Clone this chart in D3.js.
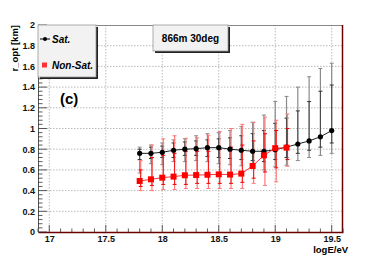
<!DOCTYPE html>
<html><head><meta charset="utf-8">
<script src="https://cdn.jsdelivr.net/npm/d3@7"></script>
<style>body{margin:0;background:#fff}svg{display:block}text{font-family:"Liberation Sans",Arial,sans-serif;font-weight:bold}</style>
</head><body>
<script>
const xTicks = [17, 17.5, 18, 18.5, 19, 19.5];
const yTicks = [0, 0.2, 0.4, 0.6, 0.8, 1, 1.2, 1.4, 1.6, 1.8, 2];
const yTickLabels = ["0","0.2","0.4","0.6","0.8","1","1.2","1.4","1.6","1.8","2"];

const satX   = [17.8,17.9,18.0,18.1,18.2,18.3,18.4,18.5,18.6,18.7,18.8,18.9,19.0,19.1,19.2,19.3,19.4,19.5];
const satY   = [0.76,0.76,0.77,0.79,0.80,0.805,0.815,0.815,0.80,0.79,0.78,0.78,0.795,0.82,0.85,0.88,0.92,0.98];
const satHi  = [0.82,0.84,0.86,0.89,0.90,0.93,0.95,0.96,0.98,1.02,1.06,1.13,1.26,1.31,1.40,1.50,1.58,1.63];
const satLo  = [0.57,0.66,0.65,0.68,0.68,0.69,0.68,0.66,0.65,0.64,0.62,0.60,0.63,0.645,0.69,0.72,0.74,0.76];
const satHiI = [0.80,0.82,0.83,0.86,0.87,0.88,0.89,0.90,0.91,0.93,0.95,0.98,1.05,1.10,1.17,1.26,1.36,1.42];
const satLoI = [0.70,0.71,0.72,0.72,0.74,0.74,0.73,0.72,0.71,0.70,0.69,0.68,0.70,0.72,0.76,0.79,0.82,0.86];

const nsX   = [17.8,17.9,18.0,18.1,18.2,18.3,18.4,18.5,18.6,18.7,18.8,18.9,19.0,19.1];
const nsY   = [0.493,0.509,0.525,0.535,0.548,0.55,0.553,0.557,0.555,0.564,0.638,0.741,0.81,0.815];
const nsHi  = [0.69,0.84,0.90,0.93,0.905,0.91,0.935,0.97,1.00,1.04,1.06,1.11,1.08,1.14];
const nsLo  = [0.40,0.40,0.41,0.41,0.42,0.42,0.42,0.42,0.42,0.42,0.47,0.45,0.485,0.635];
const nsHiI = [0.60,0.72,0.74,0.76,0.78,0.78,0.78,0.80,0.82,0.84,0.88,0.95,0.98,1.00];
const nsLoI = [0.44,0.45,0.46,0.46,0.46,0.47,0.47,0.47,0.47,0.48,0.52,0.58,0.62,0.70];

const W = 382, H = 259;
const L = 38, R = 343, T = 25, B = 232;
const svg = d3.select("body").append("svg").attr("width", W).attr("height", H);
const x = d3.scaleLinear().domain([16.9, 19.6]).range([L, R]);
const y = d3.scaleLinear().domain([0, 2]).range([B, T]);

// grid
const g = svg.append("g");
g.selectAll(".gx").data(xTicks).join("line")
  .attr("x1", d => x(d)).attr("x2", d => x(d)).attr("y1", T).attr("y2", B)
  .attr("stroke", "#aaa").attr("stroke-width", 0.8).attr("stroke-dasharray", "1.5,1.5");
g.selectAll(".gy").data(yTicks.slice(1, -1)).join("line")
  .attr("x1", L).attr("x2", R).attr("y1", d => y(d)).attr("y2", d => y(d))
  .attr("stroke", "#aaa").attr("stroke-width", 0.8).attr("stroke-dasharray", "1.5,1.5");

// frame
svg.append("line").attr("x1", L).attr("x2", R).attr("y1", T + 0.5).attr("y2", T + 0.5).attr("stroke", "#888");
svg.append("line").attr("x1", R - 0.5).attr("x2", R - 0.5).attr("y1", T).attr("y2", B).attr("stroke", "#6b0000").attr("stroke-width", 1.5);

// axes (ROOT style, ticks inside)
const xAxis = d3.axisBottom(x).tickValues(xTicks).tickFormat(d3.format("")).tickSize(0).tickPadding(4);
const xa = svg.append("g").attr("transform", `translate(0,${B})`).call(xAxis);
xa.select(".domain").attr("stroke", "#6b0000").attr("stroke-width", 1.5);
xa.selectAll("text").attr("font-size", 9).attr("font-family", "Liberation Sans, Arial").attr("font-weight", "bold").attr("fill", "#111");
const xMinor = d3.range(16.9, 19.61, 0.1);
svg.append("g").selectAll("line").data(xMinor).join("line")
  .attr("x1", d => x(d)).attr("x2", d => x(d)).attr("y1", B)
  .attr("y2", d => B - (xTicks.some(t => Math.abs(t - d) < 1e-6) ? 7 : 3.5))
  .attr("stroke", "#333").attr("stroke-width", 0.8);

const yAxis = d3.axisLeft(y).tickValues(yTicks).tickFormat((d, i) => yTickLabels[i]).tickSize(0).tickPadding(3);
const ya = svg.append("g").attr("transform", `translate(${L},0)`).call(yAxis);
ya.select(".domain").attr("stroke", "#555").attr("stroke-width", 1);
ya.selectAll("text").attr("font-size", 9).attr("font-family", "Liberation Sans, Arial").attr("font-weight", "bold").attr("fill", "#111");
const yMinor = d3.range(0, 2.001, 0.04);
svg.append("g").selectAll("line").data(yMinor).join("line")
  .attr("x1", L).attr("y1", d => y(d)).attr("y2", d => y(d))
  .attr("x2", d => L + (Math.abs(d / 0.2 - Math.round(d / 0.2)) < 1e-6 ? 9 : 4.5))
  .attr("stroke", "#333").attr("stroke-width", 0.8);

// error bars
function errBars(xs, lo, hi, color, w, dx) {
  const gg = svg.append("g");
  xs.forEach((xv, i) => {
    const cx = x(xv) + dx;
    gg.append("line").attr("x1", cx).attr("x2", cx).attr("y1", y(lo[i])).attr("y2", y(hi[i]))
      .attr("stroke", color).attr("stroke-width", w);
    [lo[i], hi[i]].forEach(v => gg.append("line").attr("x1", cx - 2).attr("x2", cx + 2)
      .attr("y1", y(v)).attr("y2", y(v)).attr("stroke", color).attr("stroke-width", 1));
  });
}
errBars(satX, satLo, satHi, "#8a8a8a", 1.2, 0);
errBars(satX, satLoI, satHiI, "#333", 0.8, 0);
errBars(nsX, nsLo, nsHi, "#f77", 1.2, 1);
errBars(nsX, nsLoI, nsHiI, "#e00", 0.8, 1);

// lines
const line = d3.line().x(d => x(d[0])).y(d => y(d[1]));
svg.append("path").attr("d", line(satX.map((v, i) => [v, satY[i]]))).attr("fill", "none").attr("stroke", "#222").attr("stroke-width", 1);
svg.append("path").attr("d", line(nsX.map((v, i) => [v, nsY[i]]))).attr("fill", "none").attr("stroke", "#f33").attr("stroke-width", 1);

// markers
svg.append("g").selectAll("circle").data(satX).join("circle")
  .attr("cx", d => x(d)).attr("cy", (d, i) => y(satY[i])).attr("r", 2.6).attr("fill", "#000");
svg.append("g").selectAll("rect").data(nsX).join("rect")
  .attr("x", d => x(d) - 3).attr("y", (d, i) => y(nsY[i]) - 3).attr("width", 6).attr("height", 6).attr("fill", "#f00");

// legend box
svg.append("rect").attr("x", L + 2).attr("y", T + 2).attr("width", 58).attr("height", 52).attr("fill", "#222");
svg.append("rect").attr("x", L).attr("y", T).attr("width", 58).attr("height", 52).attr("fill", "#f2f2f2").attr("stroke", "#999").attr("stroke-width", 0.8);
svg.append("line").attr("x1", L + 2).attr("x2", L + 12).attr("y1", 39).attr("y2", 39).attr("stroke", "#000");
svg.append("circle").attr("cx", L + 7).attr("cy", 39).attr("r", 2).attr("fill", "#000");
svg.append("text").attr("x", L + 14).attr("y", 42.5).attr("font-size", 10).attr("font-style", "italic").text("Sat.");
svg.append("rect").attr("x", L + 4).attr("y", 62.5).attr("width", 5).attr("height", 5).attr("fill", "#f33");
svg.append("text").attr("x", L + 14).attr("y", 69).attr("font-size", 10).attr("font-style", "italic").text("Non-Sat.");

// title box
svg.append("rect").attr("x", 155).attr("y", 27).attr("width", 75).attr("height", 26).attr("fill", "#222");
svg.append("rect").attr("x", 153).attr("y", 25).attr("width", 75).attr("height", 26).attr("fill", "#f2f2f2").attr("stroke", "#999").attr("stroke-width", 0.8);
svg.append("text").attr("x", 190.5).attr("y", 42).attr("text-anchor", "middle").attr("font-size", 10).text("866m 30deg");

// (c)
svg.append("text").attr("x", 60).attr("y", 104).attr("font-size", 15).text("(c)");

// axis titles
svg.append("text").attr("transform", "translate(18,25) rotate(-90)").attr("text-anchor", "end").attr("font-size", 9.5).text("r_opt [km]");
svg.append("text").attr("x", 348).attr("y", 253).attr("text-anchor", "end").attr("font-size", 9.5).text("logE/eV");
</script>
</body></html>
